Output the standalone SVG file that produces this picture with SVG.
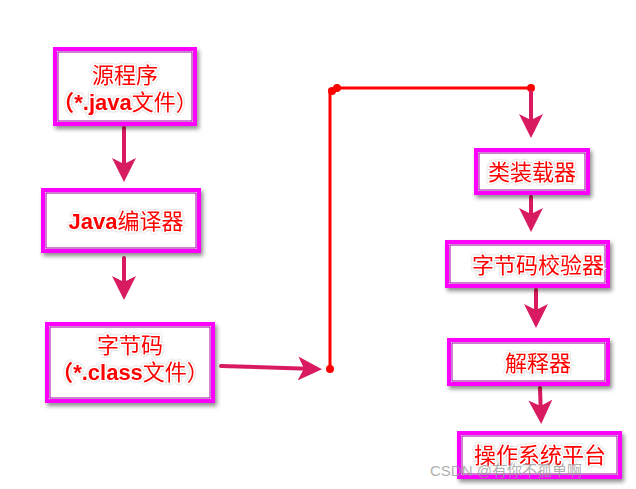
<svg xmlns="http://www.w3.org/2000/svg" width="636" height="489" viewBox="0 0 636 489">
<defs>
<style>
.box{fill:#fff;stroke:#ff00ff;stroke-width:4;filter:url(#sh)}
.inner{fill:none;stroke:#a000a0;stroke-width:1}
.t{font-family:"Liberation Sans","Noto Sans CJK SC",sans-serif;font-size:22px;fill:#ff0000;stroke:#fff;stroke-width:3;paint-order:stroke;text-anchor:middle;filter:url(#glow)}
.a{stroke:#d81b60;stroke-width:4;fill:none;marker-end:url(#ah);stroke-linecap:round}
.r{stroke:#ff0000;stroke-width:3;fill:none}
</style>
<filter id="sh" x="-10%" y="-20%" width="130%" height="150%"><feDropShadow dx="2" dy="3" stdDeviation="2" flood-color="#000" flood-opacity="0.45"/></filter>
<filter id="glow"><feDropShadow dx="0" dy="0" stdDeviation="1" flood-color="#888" flood-opacity="0.6"/></filter>
<marker id="ah" markerWidth="6" markerHeight="6" refX="4.5" refY="3" orient="auto" markerUnits="strokeWidth"><path d="M0,0 L6,3 L0,6 L1.5,3 Z" fill="#d81b60"/></marker>
</defs>
<g id="connectors">
<line class="a" x1="124" y1="128" x2="124" y2="176"/>
<line class="a" x1="124" y1="258" x2="124" y2="294"/>
<line class="a" x1="221" y1="366" x2="316" y2="369"/>
<polyline class="r" points="330,369 330,90 337,88 531,88"/>
<circle cx="330" cy="369" r="4" fill="#f00"/>
<circle cx="332" cy="91" r="4" fill="#f00"/>
<circle cx="337" cy="88" r="4" fill="#f00"/>
<circle cx="531" cy="88" r="4" fill="#f00"/>
<line class="a" x1="531" y1="92" x2="531" y2="132"/>
<line class="a" x1="531" y1="197" x2="531" y2="226"/>
<line class="a" x1="536" y1="290" x2="536" y2="322"/>
<line class="a" x1="540" y1="388" x2="541" y2="418"/>
</g>
<g id="n1"><rect class="box" x="55" y="49" width="140" height="75"/><rect class="inner" x="58" y="52" width="134" height="69"/>
<text class="t" x="125" y="83">源程序</text><text class="t" x="125" y="110"><tspan font-weight="bold">（*.java</tspan>文件）</text></g>
<g id="n2"><rect class="box" x="43" y="190" width="156" height="61"/><rect class="inner" x="46" y="193" width="150" height="55"/>
<text class="t" x="126" y="229"><tspan font-weight="bold">Java</tspan>编译器</text></g>
<g id="n3"><rect class="box" x="47" y="324" width="166" height="77"/><rect class="inner" x="50" y="327" width="160" height="71"/>
<text class="t" x="130" y="353">字节码</text><text class="t" x="130" y="380"><tspan font-weight="bold">（*.class</tspan>文件）</text></g>
<g id="n4"><rect class="box" x="476" y="150" width="112" height="43"/><rect class="inner" x="479" y="153" width="106" height="37"/>
<text class="t" x="532" y="180">类装载器</text></g>
<g id="n5"><rect class="box" x="447" y="242" width="161" height="44"/><rect class="inner" x="450" y="245" width="155" height="38"/>
<text class="t" x="538" y="273">字节码校验器</text></g>
<g id="n6"><rect class="box" x="449" y="340" width="159" height="44"/><rect class="inner" x="452" y="343" width="153" height="38"/>
<text class="t" x="538" y="371">解释器</text></g>
<g id="n7"><rect class="box" x="459" y="433" width="161" height="44"/><rect class="inner" x="462" y="436" width="155" height="38"/>
<text class="t" x="540" y="463">操作系统平台</text></g>
<text x="430" y="476" font-family="Liberation Sans,Noto Sans CJK SC,sans-serif" font-size="15" fill="#999" fill-opacity="0.8">CSDN @有你不孤单啊</text>
</svg>
